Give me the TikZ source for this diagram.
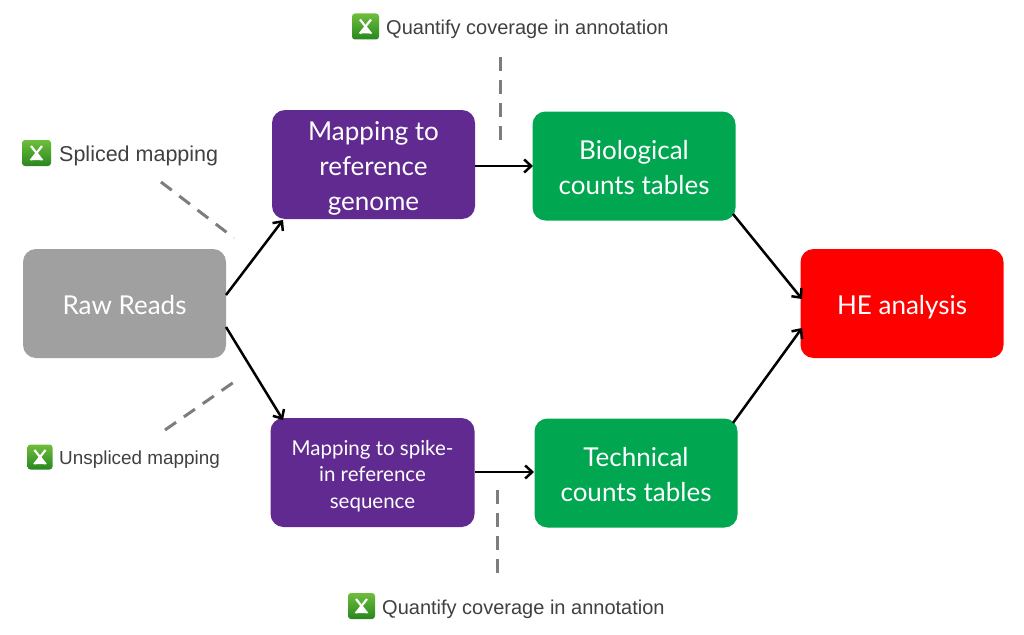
\documentclass[tikz,border=0pt]{standalone}
\usepackage{fontspec}
\setmainfont{Lato}
\newfontfamily\lbl{Liberation Sans}
\usetikzlibrary{arrows.meta}
\definecolor{cgray}{RGB}{160,160,160}
\definecolor{cpurple}{RGB}{97,42,145}
\definecolor{cgreen}{RGB}{0,166,80}
\definecolor{cred}{RGB}{255,0,0}
\definecolor{cdash}{RGB}{125,125,125}
\definecolor{iconlight}{RGB}{110,190,60}
\definecolor{icondark}{RGB}{40,135,30}
\tikzset{
  x=1pt,y=-1pt,
  boxn/.style={rounded corners=13pt,draw=none,text=white,align=center,inner sep=0pt,minimum width=#1},
  bigt/.style={font=\fontsize{26}{35}\selectfont},
  arr/.style={draw=black,line width=2.5pt,-{Straight Barb[length=7pt,width=13pt,line width=2.5pt]}},
  dsh/.style={draw=cdash,line width=3pt,dash pattern=on 13.5pt off 9.5pt},
  lab/.style={text=black!75,font=\lbl\fontsize{20}{24}\selectfont,anchor=west,inner sep=0pt},
  ico/.style={top color=iconlight,bottom color=icondark,rounded corners=3pt,inner sep=0pt,minimum width=27pt,minimum height=26pt},
  icox/.style={draw=white,line width=2.2pt}
}
\newcommand{\iconx}[1]{%
  \draw[icox] ([xshift=-5.5pt,yshift=7pt]#1.center) -- ([xshift=5.5pt,yshift=-7pt]#1.center);
  \draw[icox] ([xshift=-5.5pt,yshift=-7pt]#1.center) -- ([xshift=5.5pt,yshift=7pt]#1.center);
  \fill[white] ([xshift=-7pt,yshift=-7pt]#1.center) -- ([xshift=7pt,yshift=-7pt]#1.center) -- ([yshift=-1pt]#1.center) -- cycle;
}
\newcommand{\tp}{\rule{0pt}{27pt}}
\newcommand{\tq}{\rule{0pt}{23pt}}
\begin{document}
\begin{tikzpicture}
\useasboundingbox (0,0) rectangle (1024,634);
\node[boxn=203pt,minimum height=109pt,fill=cgray,bigt] (raw) at (124.5,303.5) {\tq Raw Reads};
\node[boxn=203pt,minimum height=109pt,fill=cpurple,bigt] (map1) at (373.5,164.5) {\tp Mapping to\\reference\\genome};
\node[boxn=204pt,minimum height=109pt,fill=cpurple,font=\fontsize{20.5}{26.5}\selectfont] (map2) at (372.5,472.5) {\rule{0pt}{22pt}Mapping to spike-\\in reference\\sequence};
\node[boxn=203pt,minimum height=109pt,fill=cgreen,bigt] (bio) at (634,166) {\tq Biological\\counts tables};
\node[boxn=203pt,minimum height=109pt,fill=cgreen,bigt] (tech) at (636,473) {\tq Technical\\counts tables};
\node[boxn=203pt,minimum height=109pt,fill=cred,bigt] (he) at (902,303.5) {\tp HE analysis};
\coordinate (a1) at (226,295); \coordinate (a2) at (283,220);
\coordinate (b1) at (226,327); \coordinate (b2) at (283,420);
\coordinate (c1) at (475,166); \coordinate (c2) at (533,166);
\coordinate (d1) at (475,472); \coordinate (d2) at (534,472);
\coordinate (e1) at (733,214); \coordinate (e2) at (802,299);
\coordinate (f1) at (733,423); \coordinate (f2) at (802,328);
\draw[arr] (a1) -- (a2);
\draw[arr] (b1) -- (b2);
\draw[arr] (c1) -- (c2);
\draw[arr] (d1) -- (d2);
\draw[arr] (e1) -- (e2);
\draw[arr] (f1) -- (f2);
\coordinate (g1) at (500,57); \coordinate (g2) at (500,140);
\coordinate (h1) at (161,182); \coordinate (h2) at (234,238);
\coordinate (i1) at (165,430); \coordinate (i2) at (234,382);
\coordinate (j1) at (497,490); \coordinate (j2) at (497,573);
\draw[dsh] (g1) -- (g2);
\draw[dsh] (h1) -- (h2);
\draw[dsh] (i1) -- (i2);
\draw[dsh] (j1) -- (j2);
\node[ico] (i-a) at (365.5,26.5) {}; \iconx{i-a}
\node[lab] (l-a) at (386,29) {Quantify coverage in annotation};
\node[ico,minimum width=29pt] (i-b) at (36.5,153) {}; \iconx{i-b}
\node[lab,font=\lbl\fontsize{21.5}{24}\selectfont] (l-b) at (59,156) {Spliced mapping};
\node[ico,minimum width=25pt,minimum height=25pt] (i-c) at (40,457) {}; \iconx{i-c}
\node[lab,font=\lbl\fontsize{18.9}{24}\selectfont] (l-c) at (59,460) {Unspliced mapping};
\node[ico] (i-d) at (361.5,606) {}; \iconx{i-d}
\node[lab] (l-d) at (382,609) {Quantify coverage in annotation};
\end{tikzpicture}
\end{document}
